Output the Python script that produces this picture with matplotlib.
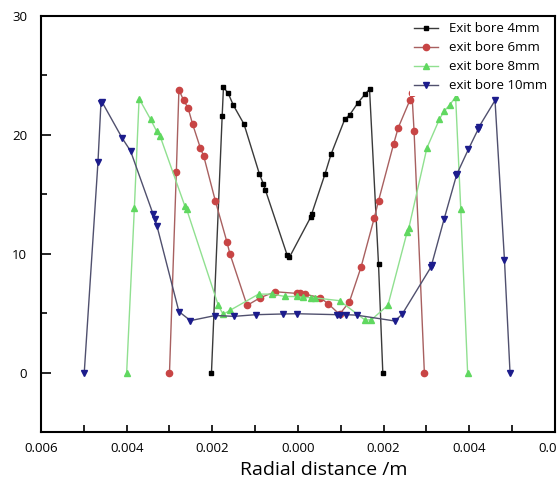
import matplotlib
matplotlib.use("Agg")
import matplotlib.pyplot as plt
from matplotlib.ticker import MultipleLocator, FuncFormatter

plt.rcParams['font.family'] = ['Open Sans', 'DejaVu Sans']

# radial position in mm (converted to m below)
black_x = [-2.02, -1.77, -1.74, -1.63, -1.51, -1.26, -0.90, -0.81, -0.76, -0.25, -0.20,
           0.30, 0.32, 0.63, 0.77, 1.09, 1.21, 1.40, 1.56, 1.67, 1.88, 1.98]
black_y = [0, 21.6, 24.0, 23.5, 22.5, 20.9, 16.7, 15.9, 15.35, 9.85, 9.7,
           13.1, 13.35, 16.7, 18.35, 21.3, 21.7, 22.7, 23.4, 23.85, 9.1, 0]

red_x = [-3.00, -2.84, -2.78, -2.67, -2.57, -2.46, -2.28, -2.20, -1.93, -1.66, -1.59,
         -1.19, -0.88, -0.53, -0.03, 0.05, 0.16, 0.52, 0.71, 0.97, 1.20, 1.47, 1.78,
         1.88, 2.23, 2.34, 2.61, 2.66, 2.71, 2.95]
red_y = [0, 16.9, 23.8, 22.9, 22.3, 20.9, 18.9, 18.2, 14.45, 11.0, 10.0,
         5.65, 6.3, 6.8, 6.66, 6.66, 6.6, 6.3, 5.77, 4.9, 5.95, 8.85, 13.0,
         14.45, 19.2, 20.6, 22.9, 23.5, 20.3, 0]

green_x = [-4.00, -3.82, -3.71, -3.44, -3.30, -3.22, -2.64, -2.60, -1.86, -1.75, -1.58,
           -0.92, -0.60, -0.30, -0.03, 0.12, 0.30, 0.40, 0.97, 1.56, 1.71, 2.10,
           2.55, 2.59, 3.01, 3.30, 3.41, 3.54, 3.68, 3.80, 3.96]
green_y = [0, 13.85, 23.05, 21.3, 20.3, 19.9, 14.0, 13.75, 5.65, 4.9, 5.25,
           6.6, 6.6, 6.4, 6.4, 6.33, 6.3, 6.28, 6.05, 4.43, 4.43, 5.67,
           11.85, 12.2, 18.9, 21.3, 22.0, 22.5, 23.2, 13.75, 0]

blue_x = [-4.99, -4.67, -4.60, -4.58, -4.10, -3.91, -3.38, -3.34, -3.29, -2.78, -2.51,
          -1.93, -1.49, -0.98, -0.34, -0.03, 0.92, 0.97, 1.13, 1.37, 2.26, 2.43,
          3.10, 3.12, 3.41, 3.70, 3.71, 3.98, 4.21, 4.23, 4.60, 4.82, 4.95]
blue_y = [0, 17.7, 22.7, 22.8, 19.7, 18.65, 13.3, 12.9, 12.3, 5.13, 4.37,
          4.8, 4.73, 4.87, 4.93, 4.95, 4.87, 4.87, 4.87, 4.83, 4.34, 4.9,
          8.85, 9.07, 12.9, 16.6, 16.7, 18.8, 20.5, 20.7, 22.9, 9.5, 0]

labels = ['Exit bore 4mm', 'exit bore 6mm', 'exit bore 8mm', 'exit bore 10mm']

fig = plt.figure(figsize=(5.57, 4.9), dpi=100)
ax = fig.add_axes([0.0736, 0.1184, 0.9228, 0.8489])

series = [
    (black_x, black_y, '#3a3a3a', 'black', 's', 3.5),
    (red_x, red_y, '#a86060', '#c84545', 'o', 4.5),
    (green_x, green_y, '#90e090', '#60d860', '^', 4.5),
    (blue_x, blue_y, '#50506e', '#1c1c8c', 'v', 4.5),
]
for (xs, ys, lc, mc, mk, ms), lab in zip(series, labels):
    ax.plot([v * 1e-3 for v in xs], ys, color=lc, lw=1.0, marker=mk, ms=ms,
            mfc=mc, mec=mc, label=lab)

ax.set_xlim(-0.006, 0.006)
ax.set_ylim(-5, 30)
ax.xaxis.set_major_locator(MultipleLocator(0.002))
ax.xaxis.set_minor_locator(MultipleLocator(0.001))
ax.yaxis.set_major_locator(MultipleLocator(10))
ax.yaxis.set_minor_locator(MultipleLocator(5))
ax.xaxis.set_major_formatter(FuncFormatter(lambda v, p: f"{abs(v):.3f}"))
ax.tick_params(which='both', direction='in', labelsize=9.5, width=1.2)
ax.tick_params(axis='y', which='major', length=7, pad=10)
ax.tick_params(axis='y', which='minor', length=4)
ax.tick_params(axis='x', which='both', length=5, pad=7)
for sp in ax.spines.values():
    sp.set_linewidth(1.5)

leg = ax.legend(loc='upper right', bbox_to_anchor=(1.005, 1.01), fontsize=9.5,
                frameon=True, fancybox=False, framealpha=1, edgecolor='none',
                handlelength=1.8, labelspacing=0.45, borderpad=0.3)

fig.text(0.582, 0.04, 'Radial distance /m', ha='center', va='center', fontsize=14)

fig.savefig('out.png', dpi=100, facecolor='white')
